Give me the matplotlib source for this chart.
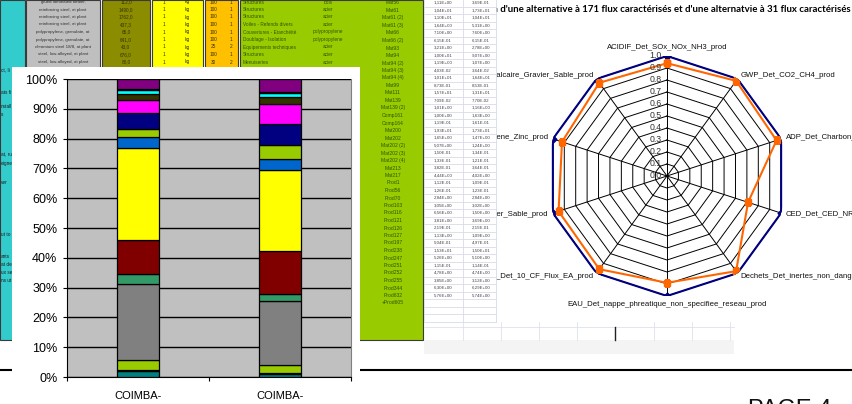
import numpy as np
import matplotlib.pyplot as plt
from matplotlib.patches import Rectangle
from matplotlib.ticker import PercentFormatter
from matplotlib.transforms import offset_copy

plt.rcParams['font.family'] = ['Liberation Sans', 'DejaVu Sans']

W, H = 853, 404

# ---- stacked bar data (share of total, bottom -> top)
bar_names = ["COIMBA-", "COIMBA-"]
seg_colors = ['#008080', '#000000', '#99CC00', '#808080', '#339966', '#800000',
              '#FFFF00', '#0066CC', '#99CC00', '#000080', '#FF00FF', '#333300',
              '#00FFFF', '#000000', '#800080']
coimba_a = [2.0, 0.3, 3.5, 25.5, 3.3, 11.5, 30.9, 3.5, 2.7, 5.3, 4.5, 2.0, 1.2, 0.3, 3.5]
coimba_b = [0.9, 0.5, 2.5, 21.5, 2.4, 14.4, 27.3, 3.8, 4.4, 7.2, 6.8, 2.1, 1.5, 0.4, 4.3]

# ---- radar data
radar_labels = ["ACIDIF_Det_SOx_NOx_NH3_prod", "GWP_Det_CO2_CH4_prod",
                "ADP_Det_Charbon_prod", "CED_Det_CED_NR_prod",
                "Dechets_Det_inertes_non_dangereux_prod",
                "EAU_Det_nappe_phreatique_non_specifiee_reseau_prod",
                "RES_Det_10_CF_Flux_EA_prod", "RES_Det_Gravier_Sable_prod",
                "RES_Det_Polyethylene_Zinc_prod", "RES_Det_Calcaire_Gravier_Sable_prod"]
alt_171 = [1.0, 1.0, 1.0, 1.0, 1.0, 1.0, 1.0, 1.0, 1.0, 1.0]
alt_31 = [0.94, 0.98, 0.96, 0.71, 0.98, 0.89, 0.96, 0.95, 0.92, 0.96]
radar_title = "Comparaison d'une alternative à 171 flux caractérisés et d'une alternatvie à 31 flux caractérisés"

# ---- spreadsheet texts behind the charts
sheet_desc = ["glued laminated timber,", "reinforcing steel, at plant", "reinforcing steel, at plant",
              "reinforcing steel, at plant", "polypropylene, granulate, at", "polypropylene, granulate, at",
              "chromium steel 18/8, at plant", "steel, low-alloyed, at plant", "steel, low-alloyed, at plant"]
sheet_mass = ["112,0", "1490,0", "1762,0", "437,3", "65,0", "641,0", "43,0", "676,0", "80,0"]
sheet_pct = ["100", "100", "100", "100", "100", "100", "25", "100", "30"]
sheet_n = ["1", "1", "1", "1", "1", "1", "2", "1", "2"]
sheet_lot = ["Structures", "Structures", "Structures", "Voiles - Refends divers",
             "Couvertures - Etanchéité", "Doublage - Isolation", "Equipements techniques",
             "Structures", "Menuiseries"]
sheet_mat = ["bois", "acier", "acier", "acier", "polypropylene", "polypropylene",
             "acier", "acier", "acier"]
codes = ["Mat56", "Mat61", "Mat61 (2)", "Mat61 (3)", "Mat66", "Mat66 (2)", "Mat93", "Mat94",
         "Mat94 (2)", "Mat94 (3)", "Mat94 (4)", "Mat99", "Mat111", "Mat139", "Mat139 (2)",
         "Comp161", "Comp164", "Mat200", "Mat202", "Mat202 (2)", "Mat202 (3)", "Mat202 (4)",
         "Mat213", "Mat217", "Prod1", "Prod56", "Prod70", "Prod103", "Prod116", "Prod121",
         "Prod126", "Prod127", "Prod197", "Prod238", "Prod247", "Prod251", "Prod252",
         "Prod255", "Prod344", "Prod632", "+Prod605"]
vals_171 = ["1,11E+00", "1,04E+01", "1,10E+01", "1,64E+00", "7,10E+00", "6,15E-01", "3,21E+00",
            "1,00E+01", "1,19E+00", "4,03E-02", "1,01E+01", "8,73E-01", "1,57E+01", "7,09E-02",
            "1,01E+00", "1,00E+00", "1,19E-01", "1,93E+01", "1,65E+00", "5,07E+00", "1,50E-01",
            "1,33E-01", "3,82E-01", "4,44E+00", "1,12E-01", "1,26E-01", "2,84E+00", "3,05E+00",
            "6,56E+00", "3,81E+00", "2,19E-01", "1,13E+00", "5,04E-01", "1,53E+01", "5,26E+00",
            "1,15E-01", "4,78E+00", "3,85E+00", "6,30E+00", "5,76E+00"]
vals_31 = ["3,69E-01", "1,73E+01", "1,04E+01", "5,31E+00", "7,60E+00", "6,15E-01", "2,78E+00",
           "9,07E+00", "1,07E+00", "3,64E-02", "1,64E+01", "8,53E-01", "1,31E+01", "7,70E-02",
           "1,16E+00", "1,63E+00", "1,61E-01", "1,73E+01", "1,47E+00", "1,24E+00", "1,34E-01",
           "1,21E-01", "3,64E-01", "4,02E+00", "1,09E-01", "1,23E-01", "2,84E+00", "3,02E+00",
           "1,50E+00", "3,69E+00", "2,15E-01", "1,09E+00", "4,97E-01", "1,50E+01", "5,10E+00",
           "1,14E-01", "4,74E+00", "3,12E+00", "6,29E+00", "5,74E+00"]
cyan_bits = ["ct, li", "ats fi", "nstall", "s", "at, ru", "eigne", "ver", "ut to", "ants", "at de", "ux se", "ns ut"]
cyan_rows = [70, 93, 107, 115, 155, 163, 182, 235, 257, 265, 272, 280]

fig = plt.figure(figsize=(W / 100, H / 100), dpi=100)

# ---- radar chart (underneath the sheet overlay)
rad = fig.add_axes([547 / W, 1 - 296 / H, 240 / W, 240 / H], projection='polar', zorder=1)
rad.set_theta_zero_location('N')
rad.set_theta_direction(-1)
rad.set_ylim(0, 1)
rad.grid(False)
rad.spines['polar'].set_visible(False)
rad.set_xticks([])
rad.set_yticks([])
rad.patch.set_alpha(0)

theta = np.deg2rad(np.arange(len(radar_labels)) * 36.0)
th_c = np.append(theta, theta[0])
for r in np.arange(0.1, 1.01, 0.1):
    rad.plot(th_c, [r] * len(th_c), color='black', lw=0.7, zorder=1)
for t in theta:
    rad.plot([t, t], [0, 1], color='black', lw=0.7, zorder=1)

rad.plot(th_c, alt_171 + alt_171[:1], color='#000080', lw=1.5, marker='D', ms=3.5, zorder=3)
rad.plot(th_c, alt_31 + alt_31[:1], color='#FF6600', lw=1.5, marker='s', ms=4.5, zorder=4)

tick_tr = offset_copy(rad.transData, fig=fig, x=-4, y=0, units='points')
for r in np.arange(0.0, 1.01, 0.1):
    rad.text(0, r, f"{r:.1f}", transform=tick_tr, ha='right', va='center',
             fontsize=6.3, color='#333333', zorder=5)

for t, lab in zip(theta, radar_labels):
    deg = np.rad2deg(t)
    if deg == 0:
        ha, va = 'center', 'bottom'
    elif deg == 180:
        ha, va = 'center', 'top'
    elif deg < 180:
        ha, va = 'left', 'center'
    else:
        ha, va = 'right', 'center'
    rad.text(t, 1.04, lab, ha=ha, va=va, fontsize=5.6, color='#111111', clip_on=False)

fig.text(851 / W, 1 - 10 / H, radar_title, ha='right', va='center', fontsize=6.9,
         fontweight='bold', family=['Lato', 'DejaVu Sans'], zorder=0)

# ---- spreadsheet overlay in pixel coordinates
sh = fig.add_axes([0, 0, 1, 1], zorder=2)
sh.set_xlim(0, W)
sh.set_ylim(H, 0)
sh.axis('off')
sh.patch.set_alpha(0)

blocks = [(0, 25, 340, '#33CCCC'), (26, 100, 70, '#BFBFBF'), (102, 150, 70, '#8C8C00'),
          (152, 203, 70, '#FFFF00'), (205, 238, 70, '#FFC000'), (240, 423, 340, '#99CC00')]
for x0, x1, y1, col in blocks:
    sh.add_patch(Rectangle((x0, 0), x1 - x0, y1, facecolor=col, edgecolor='#3A3A3A', lw=0.8, zorder=1))

sh.add_patch(Rectangle((424, 0), 72, 322, facecolor='white', edgecolor='none', zorder=1))
for k in range(43):
    sh.plot([424, 496], [k * 7.5 + 6.5, k * 7.5 + 6.5], color='#D6DCE8', lw=0.6, zorder=2)
for xv in [424, 463, 496]:
    sh.plot([xv, xv], [0, 322], color='#D6DCE8', lw=0.6, zorder=2)
for xv in [463, 501, 539, 577, 654, 692, 730]:
    sh.plot([xv, xv], [322, 340], color='#DCE2EC', lw=0.6, zorder=2)
sh.plot([424, 734], [327, 327], color='#DCE2EC', lw=0.6, zorder=2)
sh.plot([615.5, 615.5], [327, 340], color='#222222', lw=1.0, zorder=2)
sh.add_patch(Rectangle((424, 340), 310, 14, facecolor='#F4F4F4', edgecolor='none', zorder=1))

for i, (a, b) in enumerate(zip(vals_171, vals_31)):
    y = 3 + 7.5 * i
    sh.text(443, y, a, fontsize=3.2, ha='center', va='center', color='#444444', zorder=3)
    sh.text(481, y, b, fontsize=3.2, ha='center', va='center', color='#444444', zorder=3)
for i, c in enumerate(codes):
    sh.text(393, 3 + 7.5 * i, c, fontsize=3.6, ha='center', va='center', color='#2E5500', zorder=3)
for i in range(len(sheet_desc)):
    y = 2 + 7.5 * i
    sh.text(63, y, sheet_desc[i], fontsize=3.2, ha='center', va='center', color='#333333', zorder=3)
    sh.text(126, y, sheet_mass[i], fontsize=3.4, ha='center', va='center', color='#333300', zorder=3)
    sh.text(164, y, "1", fontsize=3.4, ha='center', va='center', color='#333300', zorder=3)
    sh.text(187, y, "kg", fontsize=3.4, ha='center', va='center', color='#333300', zorder=3)
    sh.text(213, y, sheet_pct[i], fontsize=3.4, ha='center', va='center', color='#333300', zorder=3)
    sh.text(231, y, sheet_n[i], fontsize=3.4, ha='center', va='center', color='#333300', zorder=3)
    sh.text(243, y, sheet_lot[i], fontsize=3.4, ha='left', va='center', color='#2E5500', zorder=3)
    sh.text(328, y, sheet_mat[i], fontsize=3.4, ha='center', va='center', color='#2E5500', zorder=3)
for y, s in zip(cyan_rows, cyan_bits):
    sh.text(1, y, s, fontsize=3.4, ha='left', va='center', color='#1A1A1A', zorder=3)

# page footer
sh.plot([0, W], [370, 370], color='black', lw=1.5, zorder=4)
sh.text(748, 416, "PAGE 4", fontsize=17, ha='left', va='baseline', color='#111111',
        family=['Liberation Sans', 'DejaVu Sans'], zorder=4)

# white frame of the bar chart
sh.add_patch(Rectangle((12, 67), 348, H - 67, facecolor='white', edgecolor='none', zorder=10))

# ---- stacked bar chart
ax = fig.add_axes([67 / W, 1 - 377 / H, (351 - 67) / W, (377 - 79) / H], zorder=3)
ax.set_facecolor('#C0C0C0')
x = np.arange(len(bar_names))
bottom = np.zeros(len(bar_names))
for i, col in enumerate(seg_colors):
    vals = np.array([coimba_a[i], coimba_b[i]]) / 100
    ax.bar(x, vals, 0.29, bottom=bottom, color=col, edgecolor='black', linewidth=0.9, zorder=3)
    bottom += vals

ax.set_xlim(-0.5, 1.5)
ax.set_ylim(0, 1)
ax.set_yticks(np.arange(0, 1.01, 0.1))
ax.yaxis.set_major_formatter(PercentFormatter(1.0, decimals=0))
ax.grid(axis='y', color='black', lw=1.0, zorder=1)
ax.set_axisbelow(True)
ax.set_xticks(x, bar_names)
ax.set_xticks([-0.5, 0.5, 1.5], minor=True)
ax.tick_params(axis='x', which='major', length=0, pad=10, labelsize=8)
ax.tick_params(axis='x', which='minor', length=3, width=0.8)
ax.tick_params(axis='y', length=3, width=0.8, pad=4, labelsize=9)
ax.spines['top'].set_visible(False)
ax.spines['right'].set_color('#808080')
ax.spines['left'].set_color('black')
ax.spines['bottom'].set_color('black')

fig.savefig("out.png", dpi=100)
